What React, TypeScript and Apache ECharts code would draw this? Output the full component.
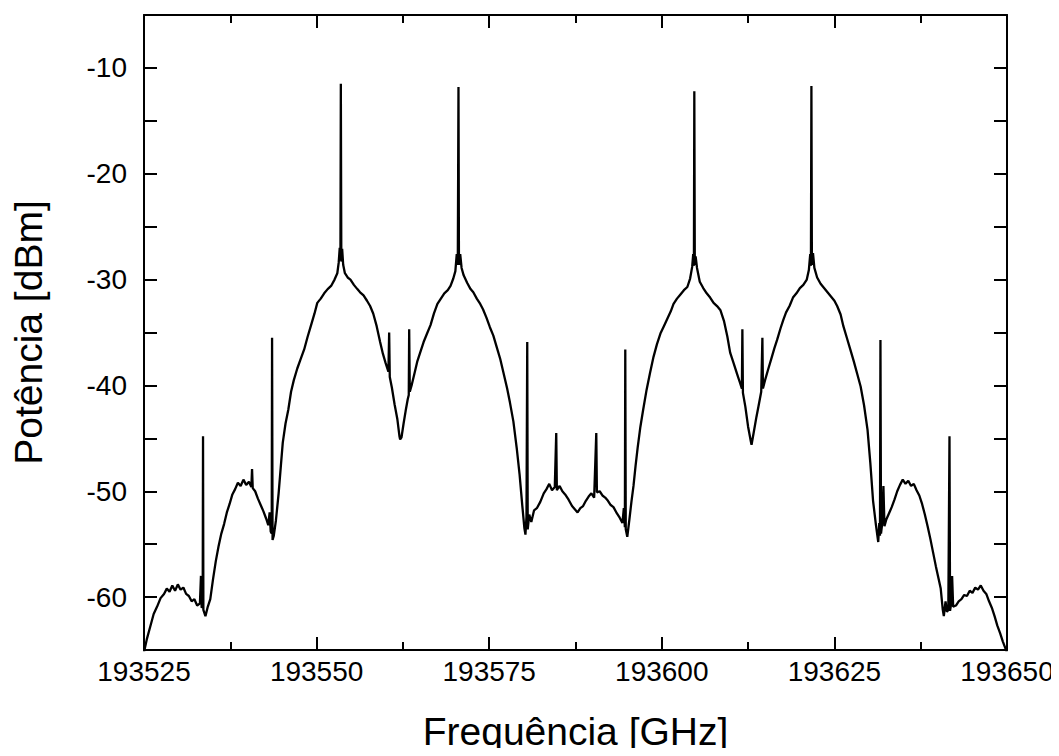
import React, { useEffect, useRef } from "react";
import * as echarts from "echarts";

const FONT = "'Liberation Sans', Arial, Helvetica, sans-serif";

const xTitle = "Frequência [GHz]";
const yTitle = "Potência [dBm]";

const xMin = 193525;
const xMax = 193650;
const xStep = 25;
const yMin = -65;
const yMax = -5;
const yStep = 5;

// Optical spectrum: [frequency GHz, power dBm]
const spectrum: [number, number][] = [
  [193525.0, -65.2], [193525.4, -64.0], [193525.9, -62.8], [193526.4, -61.6], [193526.9, -60.9],
  [193527.4, -60.1], [193527.9, -59.7], [193528.3, -59.2], [193528.7, -59.5], [193529.1, -58.9],
  [193529.5, -59.4], [193529.9, -58.8], [193530.3, -59.3], [193530.7, -59.1], [193531.1, -59.7],
  [193531.5, -59.9], [193531.9, -60.4], [193532.3, -60.2], [193532.7, -60.8], [193533.1, -60.6],
  [193533.25, -58.0], [193533.35, -61.0], [193533.5, -60.9], [193533.55, -44.8], [193533.6, -61.2],
  [193533.9, -61.8], [193534.2, -61.0], [193534.6, -60.2], [193535.0, -58.3], [193535.4, -56.6],
  [193535.8, -55.2], [193536.2, -54.0], [193536.6, -53.1], [193537.0, -52.0], [193537.4, -51.2],
  [193537.8, -50.3], [193538.2, -49.8], [193538.6, -49.2], [193539.0, -49.5], [193539.4, -48.9],
  [193539.8, -49.4], [193540.2, -49.1], [193540.55, -49.6], [193540.65, -47.9], [193540.75, -49.7],
  [193541.1, -50.0], [193541.5, -50.7], [193541.9, -51.3], [193542.3, -51.9], [193542.7, -52.6],
  [193543.0, -53.2], [193543.2, -52.0], [193543.35, -53.8], [193543.5, -54.0], [193543.55, -35.5],
  [193543.62, -54.6], [193543.8, -54.2], [193544.1, -52.8], [193544.5, -50.2], [193544.8, -47.8],
  [193545.1, -45.4], [193545.5, -43.6], [193545.9, -42.3], [193546.3, -40.6], [193546.7, -39.5],
  [193547.2, -38.4], [193547.7, -37.5], [193548.2, -36.6], [193548.7, -35.4], [193549.2, -34.3],
  [193549.7, -33.2], [193550.1, -32.2], [193550.6, -31.8], [193551.1, -31.3], [193551.6, -30.9],
  [193552.1, -30.6], [193552.6, -30.0], [193553.0, -29.4], [193553.2, -28.4], [193553.35, -27.0],
  [193553.45, -28.2], [193553.51, -11.5], [193553.58, -28.3], [193553.7, -27.1], [193553.85, -28.6],
  [193554.1, -29.4], [193554.5, -29.8], [193554.9, -30.0], [193555.4, -30.5], [193555.9, -30.9],
  [193556.3, -31.2], [193556.8, -31.5], [193557.3, -32.0], [193557.75, -32.5], [193558.2, -33.2],
  [193558.7, -34.4], [193559.2, -35.9], [193559.6, -37.0], [193560.0, -37.9], [193560.4, -38.7],
  [193560.51, -35.0], [193560.6, -39.2], [193560.9, -40.2], [193561.3, -41.8], [193561.7, -43.2],
  [193562.0, -44.8], [193562.1, -45.1], [193562.3, -44.9], [193562.6, -43.6], [193562.9, -42.4],
  [193563.2, -41.3], [193563.35, -40.9], [193563.41, -34.7], [193563.5, -40.6], [193563.8, -39.9],
  [193564.2, -38.8], [193564.6, -37.7], [193565.0, -36.9], [193565.5, -35.9], [193566.0, -35.1],
  [193566.5, -34.3], [193567.0, -33.2], [193567.5, -32.3], [193568.0, -31.8], [193568.5, -31.3],
  [193569.0, -31.0], [193569.4, -30.6], [193569.8, -29.9], [193570.1, -29.2], [193570.3, -27.6],
  [193570.45, -28.6], [193570.55, -11.8], [193570.62, -28.6], [193570.8, -27.6], [193571.0, -28.9],
  [193571.3, -29.6], [193571.8, -30.3], [193572.3, -30.9], [193572.7, -31.2], [193573.2, -31.8],
  [193573.7, -32.3], [193574.1, -32.8], [193574.6, -33.6], [193575.1, -34.5], [193575.6, -35.3],
  [193576.1, -36.4], [193576.6, -37.5], [193577.1, -38.9], [193577.6, -40.3], [193578.0, -41.6],
  [193578.5, -43.4], [193579.0, -46.0], [193579.4, -48.4], [193579.8, -51.4], [193580.1, -53.5],
  [193580.25, -54.1], [193580.4, -52.4], [193580.51, -35.9], [193580.58, -53.6], [193580.8, -52.2],
  [193581.1, -52.9], [193581.5, -51.8], [193581.9, -51.6], [193582.4, -51.0], [193582.9, -50.2],
  [193583.3, -49.8], [193583.7, -49.3], [193584.1, -49.9], [193584.5, -49.6], [193584.71, -44.5],
  [193584.8, -49.9], [193585.2, -49.5], [193585.6, -50.0], [193586.0, -50.3], [193586.5, -50.8],
  [193587.0, -51.4], [193587.4, -51.7], [193587.8, -52.0], [193588.2, -51.6], [193588.6, -51.4],
  [193589.0, -50.9], [193589.4, -50.5], [193589.8, -50.2], [193590.2, -50.6], [193590.51, -44.5],
  [193590.6, -50.1], [193591.0, -50.0], [193591.4, -50.4], [193591.8, -50.6], [193592.2, -50.9],
  [193592.6, -51.3], [193593.0, -51.5], [193593.5, -52.1], [193593.9, -52.5], [193594.3, -53.0],
  [193594.5, -51.6], [193594.65, -53.4], [193594.71, -36.6], [193594.78, -53.6], [193595.0, -54.3],
  [193595.3, -52.7], [193595.6, -51.0], [193595.9, -49.5], [193596.2, -47.6], [193596.5, -45.9],
  [193596.9, -43.9], [193597.3, -42.3], [193597.8, -40.4], [193598.3, -38.8], [193598.8, -37.3],
  [193599.3, -36.1], [193599.8, -35.1], [193600.3, -34.4], [193600.8, -33.7], [193601.3, -33.0],
  [193601.7, -32.3], [193602.2, -31.8], [193602.7, -31.4], [193603.2, -31.0], [193603.7, -30.7],
  [193604.1, -29.9], [193604.4, -28.8], [193604.55, -27.6], [193604.65, -28.7], [193604.71, -12.2],
  [193604.78, -28.6], [193604.9, -27.8], [193605.1, -28.9], [193605.5, -30.2], [193606.0, -30.8],
  [193606.5, -31.3], [193607.0, -31.7], [193607.5, -32.2], [193608.0, -32.5], [193608.5, -32.9],
  [193609.0, -33.9], [193609.5, -35.4], [193609.9, -36.9], [193610.4, -37.9], [193610.9, -38.9],
  [193611.3, -39.7], [193611.6, -40.3], [193611.67, -34.7], [193611.75, -40.7], [193612.1, -42.0],
  [193612.5, -43.9], [193612.9, -45.3], [193613.0, -45.6], [193613.3, -44.5], [193613.7, -43.0],
  [193614.0, -42.0], [193614.4, -40.6], [193614.57, -35.5], [193614.65, -40.3], [193615.0, -39.4],
  [193615.4, -38.5], [193615.9, -37.4], [193616.3, -36.5], [193616.7, -35.7], [193617.2, -34.6],
  [193617.6, -33.8], [193618.0, -33.1], [193618.5, -32.5], [193619.0, -31.7], [193619.5, -31.3],
  [193620.0, -30.8], [193620.5, -30.5], [193621.0, -30.0], [193621.3, -29.1], [193621.5, -27.6],
  [193621.6, -28.7], [193621.67, -11.7], [193621.74, -28.6], [193621.9, -27.5], [193622.1, -28.9],
  [193622.5, -29.8], [193623.0, -30.4], [193623.5, -30.8], [193624.0, -31.2], [193624.5, -31.6],
  [193625.0, -32.0], [193625.4, -32.5], [193625.9, -33.3], [193626.3, -34.4], [193626.8, -35.5],
  [193627.3, -36.6], [193627.8, -37.7], [193628.3, -38.9], [193628.8, -40.1], [193629.3, -41.9],
  [193629.8, -44.2], [193630.2, -47.3], [193630.6, -50.9], [193631.0, -53.1], [193631.35, -54.8],
  [193631.5, -53.0], [193631.6, -54.2], [193631.67, -35.7], [193631.75, -54.0], [193631.9, -53.2],
  [193632.1, -49.5], [193632.25, -53.3], [193632.5, -52.7], [193632.9, -52.1], [193633.3, -51.5],
  [193633.7, -50.8], [193634.1, -50.0], [193634.5, -49.4], [193634.9, -48.9], [193635.3, -49.3],
  [193635.7, -49.0], [193636.1, -49.5], [193636.5, -49.3], [193636.9, -49.9], [193637.3, -50.4],
  [193637.7, -51.2], [193638.1, -52.2], [193638.5, -53.3], [193638.9, -54.5], [193639.3, -55.8],
  [193639.7, -57.1], [193640.1, -58.3], [193640.4, -59.2], [193640.7, -61.2], [193640.85, -61.8],
  [193641.1, -60.4], [193641.3, -61.4], [193641.5, -61.2], [193641.67, -44.8], [193641.75, -61.3],
  [193641.95, -60.5], [193642.05, -58.0], [193642.2, -60.9], [193642.6, -60.8], [193643.0, -60.4],
  [193643.4, -60.2], [193643.8, -59.8], [193644.2, -59.9], [193644.6, -59.4], [193645.0, -59.6],
  [193645.4, -59.1], [193645.8, -59.3], [193646.2, -58.9], [193646.6, -59.4], [193647.0, -59.7],
  [193647.4, -60.4], [193647.8, -61.0], [193648.2, -61.8], [193648.6, -62.7], [193649.0, -63.4],
  [193649.4, -64.2], [193649.8, -64.9], [193650.0, -65.3],
];

export default function App() {
  const ref = useRef<HTMLDivElement>(null);

  useEffect(() => {
    if (!ref.current) return;
    const chart = echarts.init(ref.current, null, { renderer: "svg" });

    const lineStyle = { color: "#000", width: 2 };
    const baseX = {
      type: "value",
      min: xMin,
      max: xMax,
      interval: xStep,
      axisLine: { show: true, onZero: false, lineStyle },
      axisTick: { show: true, inside: true, length: 13, lineStyle },
      minorTick: { show: true, splitNumber: 2, length: 8, lineStyle },
      splitLine: { show: false },
      minorSplitLine: { show: false },
    };
    const baseY = {
      type: "value",
      min: yMin,
      max: yMax,
      interval: yStep,
      axisLine: { show: true, onZero: false, lineStyle },
      axisTick: { show: true, inside: true, length: 13, lineStyle },
      splitLine: { show: false },
    };

    chart.setOption({
      animation: false,
      backgroundColor: "#ffffff",
      grid: { left: 144, right: 52, top: 15, bottom: 105, containLabel: false },
      xAxis: [
        {
          ...baseX,
          position: "bottom",
          name: xTitle,
          nameLocation: "middle",
          nameGap: 62,
          nameTextStyle: { fontSize: 39, fontFamily: FONT, color: "#000" },
          axisLabel: {
            show: true,
            fontSize: 28,
            fontFamily: FONT,
            color: "#000",
            margin: 7,
            formatter: (v: number) => String(v),
          },
        },
        { ...baseX, position: "top", axisLabel: { show: false } },
      ],
      yAxis: [
        {
          ...baseY,
          position: "left",
          name: yTitle,
          nameLocation: "middle",
          nameGap: 96,
          nameTextStyle: { fontSize: 39, fontFamily: FONT, color: "#000" },
          axisLabel: {
            show: true,
            fontSize: 28,
            fontFamily: FONT,
            color: "#000",
            margin: 17,
            formatter: (v: number) => (v % 10 === 0 ? String(v) : ""),
          },
        },
        { ...baseY, position: "right", axisLabel: { show: false } },
      ],
      series: [
        {
          type: "line",
          data: spectrum,
          xAxisIndex: 0,
          yAxisIndex: 0,
          symbol: "none",
          showSymbol: false,
          lineStyle: { color: "#000", width: 2.3 },
          clip: true,
        },
      ],
    });

    return () => chart.dispose();
  }, []);

  return <div ref={ref} style={{ width: 1059, height: 756, margin: -8 }} />;
}
